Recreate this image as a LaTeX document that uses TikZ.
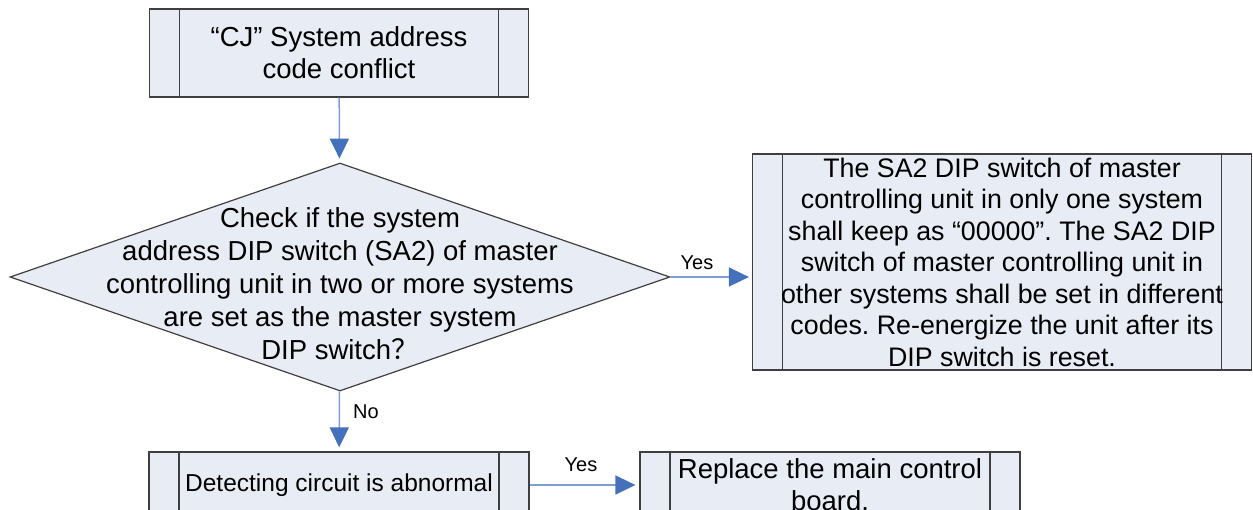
\documentclass[tikz,border=0pt]{standalone}
\usepackage{fontspec}
\setmainfont{Liberation Sans}
\newfontfamily\cjk{Noto Sans CJK SC}
\usetikzlibrary{arrows.meta,shapes.geometric,calc}
\definecolor{ink}{HTML}{000000}
\definecolor{edge}{HTML}{3F3F3F}
\definecolor{panel}{HTML}{E8ECF4}
\definecolor{flowln}{HTML}{7F9CD4}
\definecolor{flowhd}{HTML}{4570BC}
\frenchspacing
\tikzset{
  proc/.style={draw=edge,line width=1.2pt,fill=panel,inner sep=0pt,
    align=center,text=ink,font=\fontsize{27.5}{32}\selectfont,
    path picture={
      \draw[edge,line width=1.2pt]
        ([xshift=30pt]path picture bounding box.north west) --
        ([xshift=30pt]path picture bounding box.south west)
        ([xshift=-30pt]path picture bounding box.north east) --
        ([xshift=-30pt]path picture bounding box.south east);}},
  decision/.style={diamond,draw=edge,line width=1.2pt,fill=panel,
    inner sep=0pt,minimum width=660pt,minimum height=228pt},
  flow/.style={flowln,line width=1.5pt,shorten >=4pt,
    -{Triangle[length=20pt,width=19pt,color=flowhd,fill=flowhd]}},
  lbl/.style={text=ink,font=\fontsize{20}{24}\selectfont}
}
\begin{document}
\begin{tikzpicture}[x=1pt,y=-1pt]
  \useasboundingbox (0,0) rectangle (1253,509);
  \clip (0,0) rectangle (1253,509);

  \node[proc,minimum width=379pt,minimum height=88pt] (conf) at (339,53)
       {“CJ” System address\\ code conflict};

  \node[decision,label={[text=ink,align=center,yshift=-7pt,
        font=\fontsize{27.5}{33}\selectfont]center:{Check if the system\\
        address DIP switch (SA2) of master\\
        controlling unit in two or more systems\\
        are set as the master system\\
        DIP switch{\cjk ？}}}] (chk) at (340,277) {};

  \node[proc,minimum width=499pt,minimum height=216pt,
        font=\fontsize{26.8}{31.5}\selectfont] (fix) at (1002,262)
       {The SA2 DIP switch of master\\
        controlling unit in only one system\\
        shall keep as “00000”. The SA2 DIP\\
        switch of master controlling unit in\\
        other systems shall be set in different\\
        codes. Re-energize the unit after its\\
        DIP switch is reset.};

  \node[proc,minimum width=380pt,minimum height=66pt,
        font=\fontsize{24.5}{32}\selectfont] (det) at (339,485)
       {Detecting circuit is abnormal};
  \node[proc,minimum width=380pt,minimum height=66pt] (rep) at (830,485)
       {Replace the main control\\ board.};

  \draw[flow] (conf) -- (chk);
  \draw[flow,shorten >=3pt] (chk.east) -- (chk.east -| fix.west);
  \draw[flow] (chk) -- (det);
  \draw[flow] (det) -- (rep);

  \node[lbl] (yesa) at (697,263) {Yes};
  \node[lbl] (noa) at (366,412) {No};
  \node[lbl] (yesb) at (581,465) {Yes};
\end{tikzpicture}
\end{document}
